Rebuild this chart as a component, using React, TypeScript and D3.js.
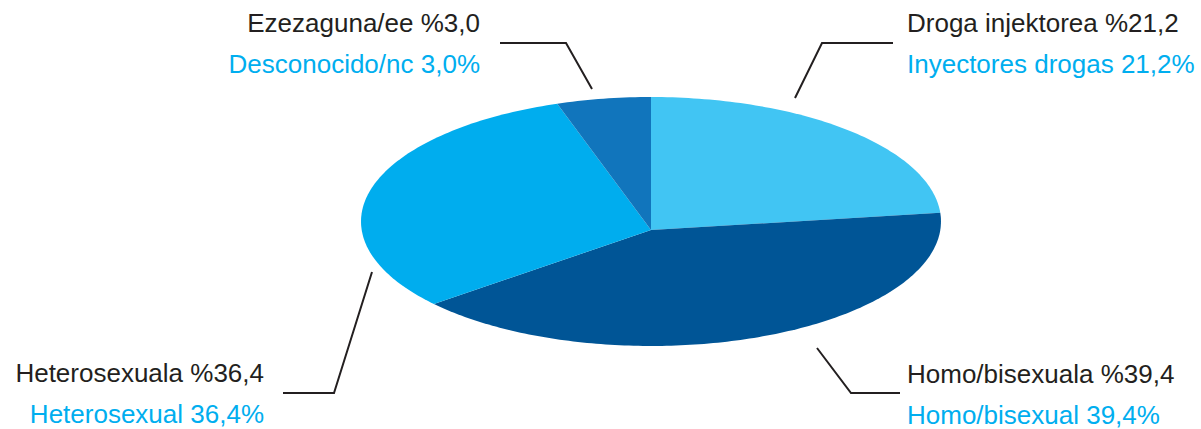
import React, { useEffect, useRef } from "react";
import * as d3 from "d3";

// slice order: clockwise from 12 o'clock
const keys = ["droga", "homo", "hetero", "ezez"];
const basqueLabels = ["Droga injektorea %21,2", "Homo/bisexuala %39,4", "Heterosexuala %36,4", "Ezezaguna/ee %3,0"];
const spanishLabels = ["Inyectores drogas 21,2%", "Homo/bisexual 39,4%", "Heterosexual 36,4%", "Desconocido/nc 3,0%"];
// shares as they are drawn in the picture (the wedges do not follow the printed percentages)
const drawnShares = [22.8, 41.5, 30.8, 4.9];
const colors = ["#41c5f3", "#005596", "#00adee", "#1175bc"];

const W = 1201;
const H = 429;

export default function App() {
  const svgRef = useRef<SVGSVGElement | null>(null);

  useEffect(() => {
    if (!svgRef.current) return;
    const svg = d3.select(svgRef.current);
    svg.selectAll("*").remove();

    // tilted disc seen in perspective
    const cx = 651, cy = 230, R = 289.3, R2 = 123.9, k = 0.0683;
    const proj = (a: number, r = 1): [number, number] => {
      const u = r * Math.sin(a);
      const v = r * Math.cos(a);
      const w = 1 - k * v;
      return [cx + (R * u) / w, cy - (R2 * v) / w];
    };

    const pie = d3.pie<number>().sort(null).startAngle(0).endAngle(2 * Math.PI);
    const arcs = pie(drawnShares);
    const line = d3.line();

    const wedge = (a0: number, a1: number) => {
      const n = Math.max(2, Math.ceil(((a1 - a0) * 180) / Math.PI));
      const pts: [number, number][] = [[cx, cy]];
      d3.range(n + 1).forEach((i) => pts.push(proj(a0 + ((a1 - a0) * i) / n)));
      return line(pts) + "Z";
    };

    svg
      .append("g")
      .selectAll("path")
      .data(arcs)
      .enter()
      .append("path")
      .attr("d", (d) => wedge(d.startAngle, d.endAngle))
      .attr("fill", (_, i) => colors[i]);

    // leader lines & labels
    const callouts = [
      { pts: [[795, 98], [822, 43], [893, 43]], x: 907, y: 32, anchor: "start" },
      { pts: [[817, 348], [851, 393], [900, 393]], x: 907, y: 383, anchor: "start" },
      { pts: [[372, 272], [334, 393], [283, 393]], x: 264, y: 382, anchor: "end" },
      { pts: [[592, 89], [566, 43], [500, 43]], x: 480, y: 32, anchor: "end" },
    ];

    const g = svg.append("g");
    g.selectAll("path.leader")
      .data(callouts)
      .enter()
      .append("path")
      .attr("class", "leader")
      .attr("d", (d) => line(d.pts as [number, number][]))
      .attr("fill", "none")
      .attr("stroke", "#231f20")
      .attr("stroke-width", 2);

    const txt = g
      .selectAll("g.lbl")
      .data(callouts)
      .enter()
      .append("g")
      .attr("class", "lbl")
      .style("font-family", "'Liberation Sans', Arial, sans-serif")
      .style("font-size", "26px");

    txt
      .append("text")
      .attr("x", (d) => d.x)
      .attr("y", (d) => d.y)
      .attr("text-anchor", (d) => d.anchor)
      .attr("fill", "#231f20")
      .text((_, i) => basqueLabels[i]);

    txt
      .append("text")
      .attr("x", (d) => d.x)
      .attr("y", (d) => d.y + 41)
      .attr("text-anchor", (d) => d.anchor)
      .attr("fill", "#00aeef")
      .text((_, i) => spanishLabels[i]);
  }, []);

  return (
    <svg
      ref={svgRef}
      width={W}
      height={H}
      viewBox={`0 0 ${W} ${H}`}
      data-keys={keys.join(",")}
      style={{ position: "absolute", left: 0, top: 0, background: "#fff" }}
    />
  );
}
